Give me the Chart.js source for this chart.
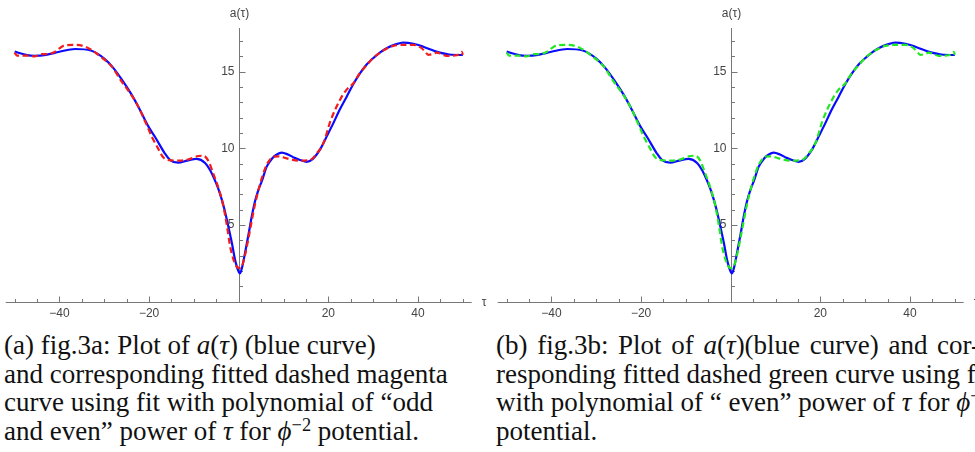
<!DOCTYPE html>
<html>
<head>
<meta charset="utf-8">
<script src="https://cdn.jsdelivr.net/npm/chart.js@4.4.1/dist/chart.umd.min.js"></script>
<style>
  html, body { margin: 0; padding: 0; background: #fff; }
  body { width: 975px; height: 452px; overflow: hidden; position: relative; }
  canvas { position: absolute; top: 0; }
  .cap { position: absolute; top: 331px; font-family: "Liberation Serif", serif; font-size: 27px;
         line-height: 28.5px; color: #111; white-space: nowrap; }
  .cap sup { font-size: 0.68em; line-height: 0; vertical-align: 0.5em; }
  .just { width: 484px; text-align: justify; text-align-last: justify; white-space: nowrap; height: 28.5px; }
</style>
</head>
<body>
<canvas id="fig3a" width="487" height="320" style="left:0"></canvas>
<canvas id="fig3b" width="487" height="320" style="left:492px"></canvas>

<div class="cap" style="left:4px">
(a) fig.3a: Plot of <i>a</i>(<i>τ</i>) (blue curve)<br>
and corresponding fitted dashed magenta<br>
curve using fit with polynomial of “odd<br>
and even” power of <i>τ</i> for <i>ϕ</i><sup>−2</sup> potential.
</div>

<div class="cap" style="left:496px">
<div class="just">(b) fig.3b: Plot of <i>a</i>(<i>τ</i>)(blue curve) and cor-</div>
<div class="just">responding fitted dashed green curve using fit</div>
<div class="just">with polynomial of “ even” power of <i>τ</i> for <i>ϕ</i><sup>−2</sup></div>
<div>potential.</div>
</div>

<script>
// a(tau), solid blue curve (same in both panels)
var tau  = [-50, -47.5, -45.5, -43, -40, -36.5, -33, -30, -28, -26, -24, -22.4, -20, -18.7, -16.5, -15.3,
            -13.5, -11.5, -9.4, -7.5, -6.4, -5, -4.2, -3.2, -2.3, -1.5, -0.8, 0, 0.3, 0.8, 1.4, 2.2, 2.9,
            3.6, 4.4, 5.2, 6.25, 7.5, 8.5, 9.6, 11, 12.5, 13.7, 15.2, 16.5, 18.1, 19.5, 21.1, 22.5, 24.1,
            25.5, 27.1, 28.5, 30, 31.5, 33, 35, 36.7, 39, 41.2, 43, 44.9, 47, 49.8, 50];
var aTau = [16.31, 16.1, 16.04, 16.1, 16.3, 16.48, 16.38, 15.85, 15.25, 14.45, 13.55, 12.72, 11.35, 10.76, 9.68, 9.24,
            9.07, 9.2, 9.31, 9.05, 8.59, 7.7, 7.07, 6.05, 4.89, 3.8, 2.72, 1.95, 1.85, 2.3, 3.16, 4.4, 5.54,
            6.5, 7.29, 7.9, 8.81, 9.35, 9.6, 9.72, 9.6, 9.38, 9.24, 9.12, 9.3, 9.9, 10.7, 11.63, 12.5, 13.37,
            14.15, 14.9, 15.45, 15.88, 16.25, 16.53, 16.78, 16.9, 16.82, 16.63, 16.43, 16.24, 16.12, 16.09, 16.1];

// dashed fitted curves
var fitTau     = [-50, -49.5, -47, -45.5, -44, -42.5, -41, -39, -37, -35, -33, -31.3, -28.3, -26.1, -24, -22.4,
                  -20.5, -19.4, -18, -16.8, -15, -13, -11, -9, -7.9, -6.8, -5.7, -4.5, -3.4, -2.6, -1.9, -1,
                  -0.45, 0.2, 0.67, 1.3, 2.1, 2.8, 3.6, 4.7, 5.9, 6.8, 7.7, 9, 10.7, 13.3, 15.9, 17.5, 18.9,
                  20.5, 22.6, 24, 25.6, 27, 28.6, 30, 31.5, 33, 34.5, 37, 39, 40.5, 41.5, 42.3, 43.3, 44.2,
                  45.3, 46.4, 48, 49.3, 49.8, 50];
var fitOddEven = [16.25, 16.05, 16.05, 16.0, 16.15, 16.15, 16.3, 16.7, 16.75, 16.7, 16.45, 16.09, 15.33, 14.35, 13.5, 12.72,
                  11.5, 10.76, 10.0, 9.4, 9.22, 9.2, 9.3, 9.5, 9.52, 9.2, 8.38, 7.4, 6.2, 4.9, 3.59, 2.6,
                  2.28, 2.2, 2.28, 2.9, 4.02, 5.1, 6.3, 7.6, 8.7, 9.2, 9.46, 9.48, 9.35, 9.2, 9.24, 9.7, 10.33,
                  11.8, 13.16, 13.8, 14.25, 14.9, 15.44, 15.9, 16.24, 16.5, 16.68, 16.75, 16.75, 16.6, 16.35, 16.1, 16.15, 16.24,
                  16.15, 16.03, 16.05, 16.15, 16.3, 16.1];
var fitEven    = [16.25, 16.05, 16.05, 16.0, 16.15, 16.15, 16.3, 16.7, 16.75, 16.7, 16.45, 16.09, 15.33, 14.35, 13.5, 12.72,
                  11.5, 10.76, 10.0, 9.4, 9.22, 9.2, 9.3, 9.5, 9.52, 9.2, 8.38, 7.4, 6.2, 4.9, 3.59, 2.6,
                  2.28, 2.18, 2.28, 2.9, 4.02, 5.1, 6.3, 7.6, 8.7, 9.2, 9.46, 9.48, 9.35, 9.2, 9.24, 9.7, 10.33,
                  11.8, 13.16, 13.8, 14.25, 14.9, 15.44, 15.9, 16.24, 16.5, 16.68, 16.75, 16.75, 16.6, 16.35, 16.1, 16.15, 16.24,
                  16.15, 16.03, 16.05, 16.15, 16.3, 16.1];

var xMajorTicks = [-40, -20, 20, 40];
var xMinorTicks = [-50, -45, -35, -30, -25, -15, -10, -5, 5, 10, 15, 25, 30, 35, 45, 50];
var yMajorTicks = [5, 10, 15];
var yMinorTicks = [1, 2, 3, 4, 6, 7, 8, 9, 11, 12, 13, 14, 16, 17];

var axisColor = '#777';
var labelColor = '#444';

// Mathematica-style axes crossing at the origin
var originAxes = {
    id: 'originAxes',
    beforeDatasetsDraw: function (chart) {
        var ctx = chart.ctx, area = chart.chartArea;
        var xs = chart.scales.x, ys = chart.scales.y;
        var x0 = Math.round(xs.getPixelForValue(0)) + 0.5;
        var y0 = Math.round(ys.getPixelForValue(0)) + 0.5;

        ctx.save();
        ctx.strokeStyle = axisColor;
        ctx.lineWidth = 1;
        ctx.beginPath();
        ctx.moveTo(area.left, y0); ctx.lineTo(area.right, y0);
        ctx.moveTo(x0, y0); ctx.lineTo(x0, area.top);
        xMajorTicks.forEach(function (v) { var p = Math.round(xs.getPixelForValue(v)) + 0.5; ctx.moveTo(p, y0); ctx.lineTo(p, y0 - 6); });
        xMinorTicks.forEach(function (v) { var p = Math.round(xs.getPixelForValue(v)) + 0.5; ctx.moveTo(p, y0); ctx.lineTo(p, y0 - 3.5); });
        yMajorTicks.forEach(function (v) { var p = Math.round(ys.getPixelForValue(v)) + 0.5; ctx.moveTo(x0, p); ctx.lineTo(x0 + 6, p); });
        yMinorTicks.forEach(function (v) { var p = Math.round(ys.getPixelForValue(v)) + 0.5; ctx.moveTo(x0, p); ctx.lineTo(x0 + 3.5, p); });
        ctx.stroke();

        ctx.fillStyle = labelColor;
        ctx.font = '12px "Liberation Sans", Arial, sans-serif';
        ctx.textAlign = 'center';
        ctx.textBaseline = 'middle';
        xMajorTicks.forEach(function (v) {
            ctx.fillText(String(v).replace('-', '\u2212'), xs.getPixelForValue(v), y0 + 11);
        });
        ctx.textAlign = 'right';
        yMajorTicks.forEach(function (v) {
            ctx.fillText(String(v), x0 - 5, ys.getPixelForValue(v));
        });
        ctx.textAlign = 'center';
        ctx.fillText('a(\u03c4)', x0, area.top - 14);
        ctx.textAlign = 'left';
        ctx.fillText('\u03c4', area.right + 10, y0);
        ctx.restore();
    }
};

function toPoints(xv, yv) {
    return xv.map(function (t, i) { return { x: t, y: yv[i] }; });
}

function makePanel(id, fitValues, fitColor, padLeft) {
    new Chart(document.getElementById(id), {
        type: 'line',
        data: {
            datasets: [{
                data: toPoints(fitTau, fitValues),
                borderColor: fitColor,
                borderWidth: 2.2,
                borderDash: [6, 3.5],
                pointRadius: 0,
                cubicInterpolationMode: 'monotone',
                order: 0
            }, {
                data: toPoints(tau, aTau),
                borderColor: '#0a0aff',
                borderWidth: 2.2,
                pointRadius: 0,
                cubicInterpolationMode: 'monotone',
                order: 1
            }]
        },
        options: {
            responsive: false,
            animation: false,
            events: [],
            layout: { padding: { left: padLeft, right: 487 - padLeft - 466, top: 28, bottom: 18.3 } },
            scales: {
                x: { type: 'linear', min: -52, max: 52, display: false },
                y: { type: 'linear', min: 0, max: 17.85, display: false }
            },
            plugins: { legend: { display: false }, tooltip: { enabled: false } }
        },
        plugins: [originAxes]
    });
}

makePanel('fig3a', fitOddEven, '#f21c1c', 5.7);
makePanel('fig3b', fitEven, '#22e822', 5.7);
</script>
</body>
</html>
